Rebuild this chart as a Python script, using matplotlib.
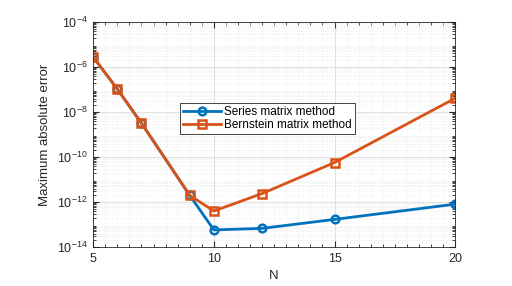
import matplotlib.pyplot as plt
from matplotlib.ticker import LogLocator, MultipleLocator, NullFormatter
import numpy as np

N = [5, 6, 7, 9, 10, 12, 15, 20]
series_err = [2.8e-6, 1.05e-7, 3.2e-9, 2.0e-12, 5.8e-14, 6.8e-14, 1.7e-13, 8.1e-13]
bernstein_err = [2.8e-6, 1.05e-7, 3.2e-9, 2.0e-12, 4.0e-13, 2.4e-12, 5.7e-11, 4.1e-8]

plt.rcParams['font.family'] = 'Liberation Sans'

fig = plt.figure(figsize=(5.12, 2.86), dpi=100)
ax = fig.add_axes([0.182, 0.136, 0.707, 0.787])

ax.semilogy(N, series_err, '-o', color='#0072BD', lw=2, ms=5.5, mfc='none', mew=1.8,
            label='Series matrix method')
ax.semilogy(N, bernstein_err, '-s', color='#D95319', lw=2, ms=5.5, mfc='none', mew=1.8,
            label='Bernstein matrix method')

ax.set_xlim(5, 20)
ax.set_ylim(1e-14, 1e-4)
ax.set_xticks([5, 10, 15, 20])
ax.set_yticks([1e-14, 1e-12, 1e-10, 1e-8, 1e-6, 1e-4])
ax.xaxis.set_minor_locator(MultipleLocator(0.5))
ax.yaxis.set_minor_locator(LogLocator(base=10, subs=np.arange(2, 10), numticks=50))
ax.yaxis.set_minor_formatter(NullFormatter())

ax.grid(True, which='major', color='#dcdcdc', lw=0.6)
ax.grid(True, which='minor', color='#e6e6e6', lw=0.5, ls=':')
ax.set_axisbelow(True)
ax.tick_params(which='both', direction='in', top=True, right=True, labelsize=9,
               colors='#262626')
ax.tick_params(which='major', length=4, pad=4)
ax.tick_params(which='minor', length=2)
for s in ax.spines.values():
    s.set_color('#262626')
    s.set_linewidth(0.6)

ax.set_xlabel('N', fontsize=9.5, color='#262626')
ax.set_ylabel('Maximum absolute error', fontsize=9.5, color='#262626')

leg = ax.legend(loc='upper left', bbox_to_anchor=(0.24, 0.64), fontsize=8.5,
                fancybox=False, framealpha=1, edgecolor='#262626',
                borderpad=0.25, labelspacing=0.1, handlelength=3.2, handletextpad=0.3,
                borderaxespad=0)
leg.get_frame().set_linewidth(0.6)

fig.savefig('out.png', dpi=100)
